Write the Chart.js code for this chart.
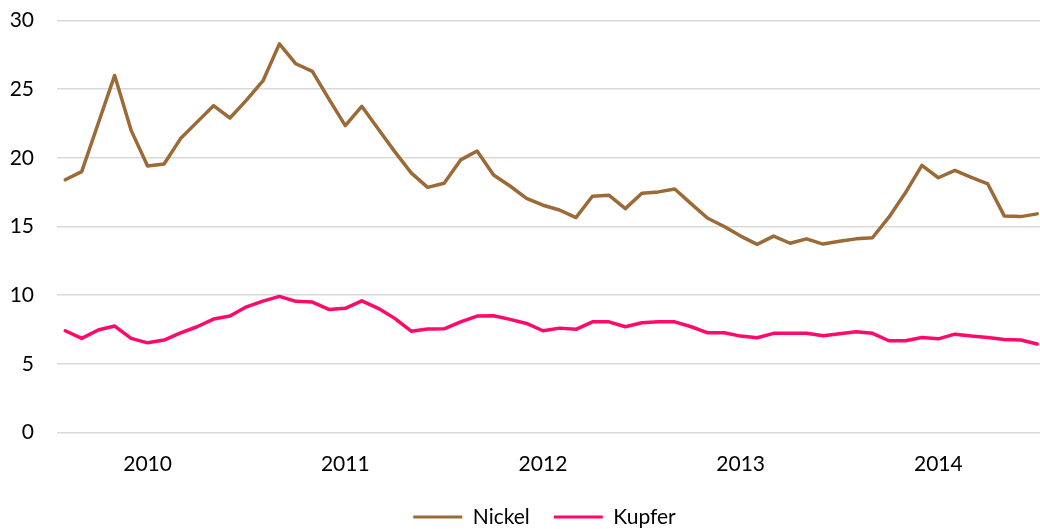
<!DOCTYPE html>
<html>
<head>
<meta charset="utf-8">
<script src="https://cdn.jsdelivr.net/npm/chart.js@4/dist/chart.umd.min.js"></script>
<style>
  html, body { margin: 0; padding: 0; background: #fff; }
</style>
</head>
<body>
<canvas id="metalsChart" width="1040" height="529"></canvas>
<script>
// Monthly values, Jan 2010 .. Dec 2014
const years = ['2010', '2011', '2012', '2013', '2014'];

const nickel = [
  18.4, 19.0, 22.5, 26.0, 22.0, 19.4, 19.55, 21.4, 22.6, 23.8,
  22.9, 24.2, 25.6, 28.3, 26.85, 26.3, 24.3, 22.35, 23.75, 22.1,
  20.45, 18.9, 17.85, 18.15, 19.85, 20.5, 18.75, 17.95, 17.05, 16.55,
  16.2, 15.65, 17.2, 17.28, 16.3, 17.42, 17.52, 17.73, 16.65, 15.6,
  15.0, 14.3, 13.7, 14.3, 13.78, 14.1, 13.72, 13.93, 14.1, 14.18,
  15.68, 17.45, 19.45, 18.55, 19.08, 18.57, 18.1, 15.77, 15.72, 15.92
];

const kupfer = [
  7.41, 6.85, 7.46, 7.75, 6.85, 6.53, 6.73, 7.26, 7.7, 8.26,
  8.48, 9.15, 9.57, 9.91, 9.55, 9.5, 8.96, 9.04, 9.59, 9.04,
  8.31, 7.38, 7.53, 7.55, 8.06, 8.48, 8.5, 8.24, 7.94, 7.41,
  7.6, 7.51, 8.06, 8.06, 7.7, 7.99, 8.06, 8.06, 7.7, 7.26,
  7.26, 7.02, 6.9, 7.22, 7.22, 7.22, 7.04, 7.19, 7.33, 7.22,
  6.68, 6.68, 6.92, 6.82, 7.16, 7.02, 6.92, 6.78, 6.73, 6.44
];

const yMin = 0;
const yMax = 30;
const yStep = 5;

const FONT = { family: 'Lato', size: 21 };
const TEXT = '#000000';

function toPoints(values) {
  return values.map((v, i) => ({ x: i, y: v }));
}

function lineSet(label, values, color) {
  return {
    label: label,
    data: toPoints(values),
    borderColor: color,
    backgroundColor: color,
    borderWidth: 3.5,
    borderJoinStyle: 'round',
    borderCapStyle: 'round',
    pointRadius: 0,
    tension: 0
  };
}

// centre the legend over the plot area rather than the whole canvas
const legendOverPlot = {
  id: 'legendOverPlot',
  afterLayout(chart) {
    chart.legend.left = chart.chartArea.left - 8;
  }
};

const ctx = document.getElementById('metalsChart').getContext('2d');
new Chart(ctx, {
  type: 'line',
  data: {
    datasets: [
      lineSet('Nickel', nickel, '#9b6a36'),
      lineSet('Kupfer', kupfer, '#ff0a6a')
    ]
  },
  plugins: [legendOverPlot],
  options: {
    responsive: false,
    animation: false,
    devicePixelRatio: 1,
    layout: { padding: { left: 0, right: 0, top: 20.5, bottom: -8.5 } },
    plugins: {
      tooltip: { enabled: false },
      legend: {
        position: 'bottom',
        labels: {
          font: FONT,
          color: TEXT,
          boxWidth: 49,
          boxHeight: 3,
          padding: 24,
          generateLabels: function (chart) {
            return Chart.defaults.plugins.legend.labels.generateLabels(chart)
              .map(item => Object.assign(item, { lineWidth: 0 }));
          }
        }
      }
    },
    scales: {
      x: {
        type: 'linear',
        min: -0.5,
        max: 59.17,
        grid: { display: false, drawTicks: false },
        border: { display: false },
        afterBuildTicks: function (axis) {
          // one label per year, over the sixth month
          axis.ticks = years.map((y, k) => ({ value: 5 + 12 * k }));
        },
        afterFit: function (axis) {
          axis.height = 50;
        },
        ticks: {
          autoSkip: false,
          maxRotation: 0,
          padding: 19.5,
          font: FONT,
          color: TEXT,
          callback: function (value, index) {
            return years[index];
          }
        }
      },
      y: {
        min: yMin,
        max: yMax,
        afterFit: function (axis) {
          axis.width = 57;
          axis.paddingTop = 0;
          axis.paddingBottom = 0;
        },
        grid: { color: '#d9d9d9', lineWidth: 1.5, drawTicks: false },
        border: { display: false },
        ticks: {
          stepSize: yStep,
          padding: 23,
          font: FONT,
          color: TEXT
        }
      }
    }
  }
});
</script>
</body>
</html>
